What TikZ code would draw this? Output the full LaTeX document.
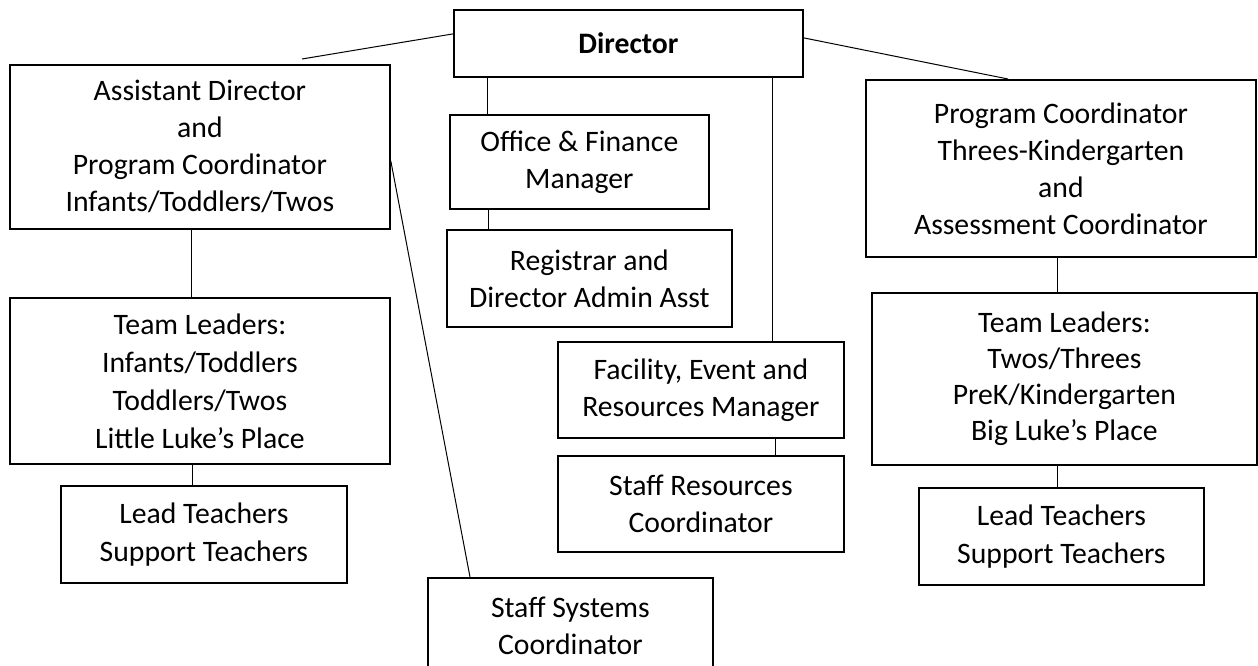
\documentclass[tikz,border=0pt]{standalone}
\usepackage{fontspec}
\setmainfont{Carlito}
\begin{document}
\begin{tikzpicture}[x=1pt,y=-1pt,
  orgbox/.style={draw, line width=1.8pt, anchor=north west, inner sep=0pt,
    align=center, font=\fontsize{29.7}{37}\selectfont},
  link/.style={line width=1pt}]
\clip (0,0) rectangle (1258,666);

% top level
\node[orgbox, minimum width=349pt, minimum height=67pt, font=\fontsize{29.7}{37}\selectfont\bfseries]
  (dir) at (453,9) {Director};

% left branch
\node[orgbox, minimum width=380pt, minimum height=164pt] (asst) at (9,64)
  {Assistant Director\\and\\Program Coordinator\\Infants/Toddlers/Twos};
\node[orgbox, minimum width=380pt, minimum height=166pt, font=\fontsize{29.7}{38}\selectfont] (tll) at (9,297)
  {Team Leaders:\\Infants/Toddlers\\Toddlers/Twos\\Little Luke’s Place};
\node[orgbox, minimum width=286pt, minimum height=97pt, font=\fontsize{29.7}{38}\selectfont] (ltl) at (60,485)
  {Lead Teachers\\Support Teachers};

% centre branch
\node[orgbox, minimum width=259pt, minimum height=94pt] (off) at (449,114)
  {Office \& Finance\\Manager};
\node[orgbox, minimum width=285pt, minimum height=97pt] (reg) at (446,229)
  {Registrar and\\Director Admin Asst};
\node[orgbox, minimum width=286pt, minimum height=96pt] (fac) at (557,341)
  {Facility, Event and\\Resources Manager};
\node[orgbox, minimum width=286pt, minimum height=96pt] (sres) at (557,455)
  {Staff Resources\\Coordinator};
\node[orgbox, minimum width=285pt, minimum height=96pt] (ssys) at (427,577)
  {Staff Systems\\Coordinator};

% right branch
\node[orgbox, minimum width=390pt, minimum height=177pt] (prog) at (865,79)
  {Program Coordinator\\Threes-Kindergarten\\and\\Assessment Coordinator};
\node[orgbox, minimum width=385pt, minimum height=172pt, font=\fontsize{29.7}{36}\selectfont] (tlr) at (871,292)
  {Team Leaders:\\Twos/Threes\\PreK/Kindergarten\\Big Luke’s Place};
\node[orgbox, minimum width=285pt, minimum height=97pt, font=\fontsize{29.7}{38}\selectfont] (ltr) at (918,487)
  {Lead Teachers\\Support Teachers};

% connectors
\coordinate (dl) at (302,59);
\draw[link] (dl) -- ([yshift=9.5pt]dir.west);
\draw[link] ([yshift=5.5pt]dir.east) -- ([xshift=143pt]prog.north west);

\draw[link] ([xshift=38pt]off.north west) -- ([xshift=38pt]off.north west |- dir.south);
\draw[link] ([xshift=39pt]off.south west) -- ([xshift=39pt]off.south west |- reg.north);
\draw[link] ([xshift=215pt]fac.north west) -- ([xshift=215pt]fac.north west |- dir.south);
\draw[link] ([xshift=218pt]fac.south west) -- ([xshift=218pt]fac.south west |- sres.north);

\draw[link] ([xshift=182pt]asst.south west) -- ([xshift=182pt]asst.south west |- tll.north);
\draw[link] ([xshift=183pt]tll.south west) -- ([xshift=183pt]tll.south west |- ltl.north);
\draw[link] ([yshift=-14pt]asst.east) -- ([xshift=43pt]ssys.north west);

\draw[link] ([xshift=192pt]prog.south west) -- ([xshift=192pt]prog.south west |- tlr.north);
\draw[link] ([xshift=186pt]tlr.south west) -- ([xshift=186pt]tlr.south west |- ltr.north);
\end{tikzpicture}
\end{document}
